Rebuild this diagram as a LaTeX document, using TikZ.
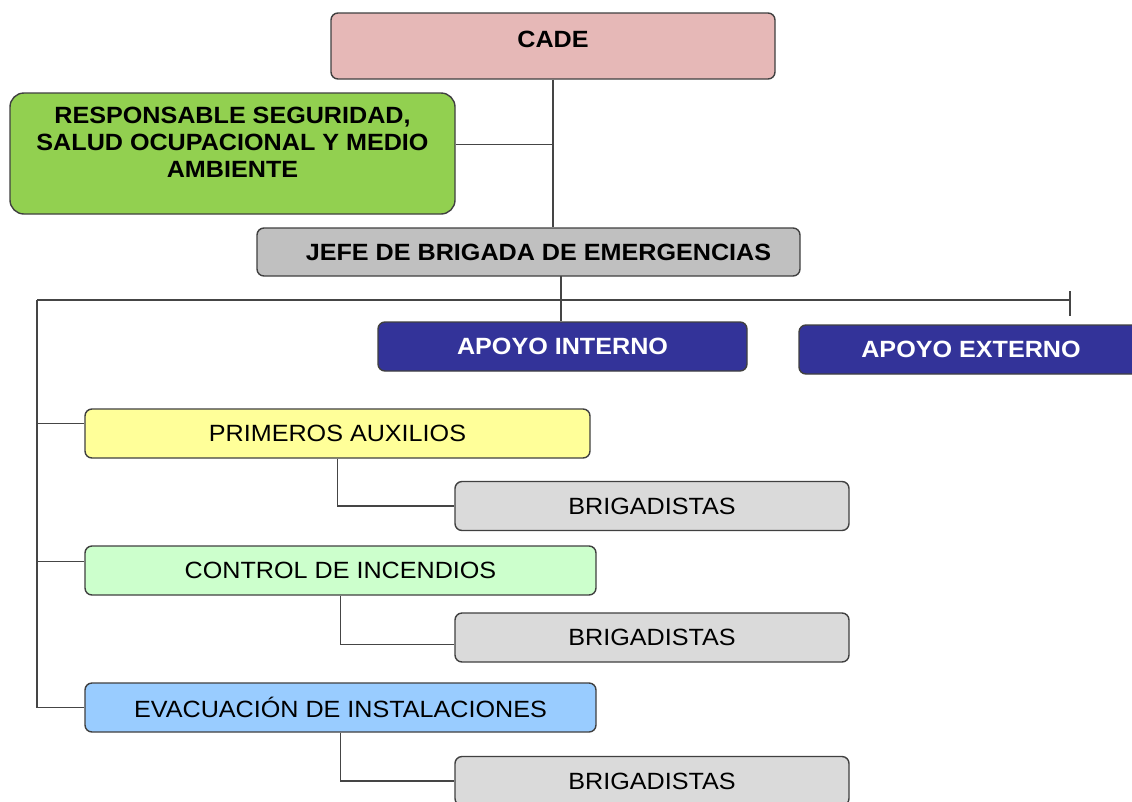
\documentclass[tikz,border=0pt]{standalone}
\usepackage{fontspec}
\setmainfont{Liberation Sans}[FakeStretch=1.07]
\definecolor{bordc}{HTML}{404040}
\definecolor{linec}{HTML}{454545}
\definecolor{cadec}{HTML}{E6B8B7}
\definecolor{respc}{HTML}{92D050}
\definecolor{jefec}{HTML}{C0C0C0}
\definecolor{apoyoc}{HTML}{333399}
\definecolor{primc}{HTML}{FFFF99}
\definecolor{ctrlc}{HTML}{CCFFCC}
\definecolor{evacc}{HTML}{99CCFF}
\definecolor{brigc}{HTML}{DADADA}
\tikzset{
  orgbox/.style={draw=bordc, line width=1.4pt, rounded corners=7pt, inner sep=0pt,
    font=\fontsize{23.5}{27}\selectfont, text=black, align=center},
  boldbox/.style={orgbox, font=\fontsize{23.5}{27}\selectfont\bfseries},
  conn/.style={draw=linec, line width=1.4pt},
}
\begin{document}
\begin{tikzpicture}[x=1pt, y=-1pt]
\useasboundingbox (0,0) rectangle (1132,801);
\fill[white] (0,0) rectangle (1132,801);
\clip (0,0) rectangle (1132,801);

\node[boldbox, fill=cadec, minimum width=444pt, minimum height=66pt] (cade) at (553,46)
  {\raisebox{7pt}[\height][\depth]{CADE}};
\node[boldbox, fill=respc, rounded corners=14pt, minimum width=445pt, minimum height=121pt] (resp) at (232.5,153.5)
  {\raisebox{8pt}[\height][\depth]{\begin{tabular}{@{}c@{}}RESPONSABLE SEGURIDAD,\\SALUD OCUPACIONAL Y MEDIO\\AMBIENTE\end{tabular}}};
\node[boldbox, fill=jefec, minimum width=543pt, minimum height=48pt] (jefe) at (528.5,252)
  {\hspace{20pt}JEFE DE BRIGADA DE EMERGENCIAS};
\node[boldbox, fill=apoyoc, text=white, minimum width=369pt, minimum height=49pt] (ain) at (562.5,346.5)
  {APOYO INTERNO};
\node[boldbox, fill=apoyoc, text=white, minimum width=344pt, minimum height=49pt] (aex) at (971,349.5)
  {APOYO EXTERNO};
\node[orgbox, fill=primc, minimum width=505pt, minimum height=49pt] (prim) at (337.5,433.5)
  {PRIMEROS AUXILIOS};
\node[orgbox, fill=brigc, minimum width=394pt, minimum height=49pt] (brig1) at (652,506)
  {BRIGADISTAS};
\node[orgbox, fill=ctrlc, minimum width=511pt, minimum height=49pt] (ctrl) at (340.5,570.5)
  {CONTROL DE INCENDIOS};
\node[orgbox, fill=brigc, minimum width=394pt, minimum height=49pt] (brig2) at (652,637.5)
  {BRIGADISTAS};
\node[orgbox, fill=evacc, minimum width=511pt, minimum height=49pt] (evac) at (340.5,707.5)
  {EVACUACIÓN DE INSTALACIONES};
\node[orgbox, fill=brigc, minimum width=394pt, minimum height=49pt] (brig3) at (652,781)
  {BRIGADISTAS};

\coordinate (barL) at (37,300);
\coordinate (barR) at (1070,300);
\coordinate (tickT) at (1070,291);
\coordinate (tickB) at (1070,316);
\coordinate (respOut) at ([yshift=9pt]resp.east);
\coordinate (jefeOut) at (561,276);
\coordinate (primIn) at ([yshift=10pt]prim.west);
\coordinate (ctrlIn) at ([yshift=9pt]ctrl.west);
\coordinate (brig2In) at ([yshift=-7pt]brig2.west);

\draw[conn] (cade.south) -- (cade.south |- jefe.north);
\draw[conn] (respOut) -- (respOut -| cade.south);
\draw[conn] (jefeOut) -- (jefeOut |- ain.north);
\draw[conn] (barL) -- (barR);
\draw[conn] (tickT) -- (tickB);
\draw[conn] (barL) -- (barL |- evac.west);
\draw[conn] (barL |- primIn) -- (primIn);
\draw[conn] (barL |- ctrlIn) -- (ctrlIn);
\draw[conn] (barL |- evac.west) -- (evac.west);
\draw[conn] (prim.south) |- (brig1.west);
\draw[conn] (ctrl.south) |- (brig2In);
\draw[conn] (evac.south) |- (brig3.west);
\end{tikzpicture}
\end{document}
